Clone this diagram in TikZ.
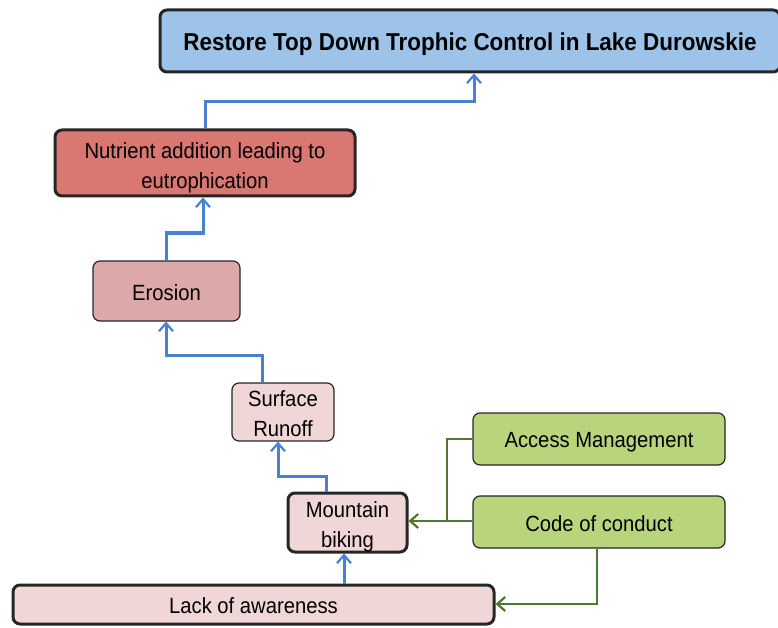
\documentclass[tikz,border=0pt]{standalone}
\usepackage{fontspec}
\setmainfont{Liberation Sans}[FakeStretch=0.92]
\usetikzlibrary{arrows.meta}
\definecolor{topblue}{HTML}{9DC3E9}
\definecolor{nutred}{HTML}{D97773}
\definecolor{eropink}{HTML}{DDA9A8}
\definecolor{palepink}{HTML}{F0D6D6}
\definecolor{leafgreen}{HTML}{B9D57C}
\definecolor{flowblue}{HTML}{4A7FD6}
\definecolor{ctrlgreen}{HTML}{4D7A30}
\tikzset{
  x=1pt, y=-1pt,
  box/.style={draw=black!85, rounded corners=7pt, inner sep=0pt, line width=1.2pt},
  boxtext/.style={align=center, inner sep=0pt, font=\fontsize{22}{30}\selectfont},
  titletext/.style={boxtext, font=\fontsize{24.4}{28}\selectfont\bfseries},
  heavy/.style={line width=3pt},
  flow/.style={draw=flowblue, line width=3pt, -{Straight Barb[length=8pt,width=14pt,line width=2.2pt]}},
  ctrl/.style={draw=ctrlgreen, line width=2.2pt, -{Straight Barb[length=8pt,width=14pt,line width=2.2pt]}},
  ctrlline/.style={draw=ctrlgreen, line width=2.2pt},
}
% box from (x1,y1) to (x2,y2) with its text lowered by a given amount
\newcommand{\boxat}[9]{% name, x1, y1, x2, y2, box style, text style, drop, text
  \node[box,#6, minimum width={#4-#2}, minimum height={#5-#3}] (#1) at ({(#2+#4)/2},{(#3+#5)/2}) {};
  \node[#7, yshift=-#8] (#1-text) at (#1.center) {#9};}
\begin{document}
\begin{tikzpicture}
\useasboundingbox (0,0) rectangle (778,628);
\boxat{goal}{160}{10}{780}{72}{heavy,fill=topblue}{titletext}{3pt}{Restore Top Down Trophic Control in Lake Durowskie}
\boxat{nutr}{55}{130}{355}{196}{heavy,fill=nutred}{boxtext}{5pt}{Nutrient addition leading to\\eutrophication}
\boxat{eros}{93}{261}{240}{321}{fill=eropink}{boxtext}{2pt}{Erosion}
\boxat{runoff}{232}{383}{334}{441}{fill=palepink}{boxtext}{2pt}{Surface\\Runoff}
\boxat{bike}{288}{493}{407}{552}{heavy,fill=palepink}{boxtext}{4pt}{Mountain\\biking}
\boxat{aware}{13}{585}{494}{624}{heavy,fill=palepink}{boxtext}{1pt}{Lack of awareness}
\boxat{access}{473}{413}{725}{465}{fill=leafgreen}{boxtext}{3pt}{Access Management}
\boxat{code}{473}{496}{725}{548}{fill=leafgreen}{boxtext}{2pt}{Code of conduct}

% causal chain
\draw[flow] (nutr.north -| 205,0) |- (474,102) -- (goal.south -| 474,0);
\draw[flow] (eros.north -| 166,0) |- (203,233) -- (nutr.south -| 203,0);
\draw[flow] (runoff.north -| 262,0) |- (166,355) -- (eros.south -| 166,0);
\draw[flow] (bike.north -| 326,0) |- (278,476) -- (runoff.south -| 278,0);
\draw[flow] (aware.north -| 344,0) -- (bike.south -| 344,0);

% interventions
\coordinate (join) at (447,521);
\draw[ctrlline] (access.west) -| (join);
\draw[ctrl] (code.west |- join) -- (bike.east |- join);
\draw[ctrl] (code.south -| 597,0) |- (aware.east |- 0,604);
\end{tikzpicture}
\end{document}
